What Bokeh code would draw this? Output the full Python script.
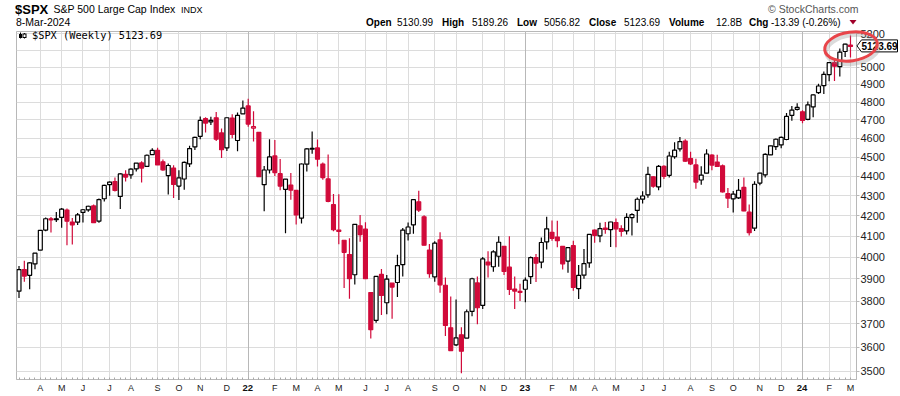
import datetime as dt
import math
import html
from bokeh.plotting import figure
from bokeh.models import (Range1d, FixedTicker, NumeralTickFormatter, Grid, GridBox,
                          ColumnDataSource, Div)
from bokeh.embed import file_html
from bokeh.resources import INLINE

# ---------------- data: $SPX weekly candles, week ending 2021-03-12 .. 2024-03-08 -------------
first_week = "2021-03-12"
prev_close0 = 3841.94

opens = [
    3844.39, 3942.96, 3916.48, 3969.31, 4034.44, 4130.10, 4185.14, 4185.03, 4191.98, 4228.29,
    4169.14, 4168.61, 4216.52, 4229.34, 4248.87, 4173.40, 4284.90, 4356.46, 4372.41, 4296.40,
    4409.58, 4406.86, 4437.77, 4469.04, 4450.29, 4513.02, 4535.38, 4474.81, 4402.95, 4442.12,
    4348.84, 4385.44, 4463.72, 4553.69, 4610.62, 4707.25, 4689.30, 4712.00, 4628.75, 4548.37,
    4710.30, 4587.90, 4733.99,
    4778.14, 4655.34, 4632.24, 4356.32, 4431.79, 4505.75, 4412.61, 4332.74, 4354.17, 4327.01,
    4188.82, 4462.40, 4541.09, 4547.97, 4462.64, 4385.63, 4255.34, 4130.61, 4081.27, 4013.02,
    3919.42, 4151.09, 4134.72, 3838.15, 3715.31, 3920.76, 3792.61, 3880.94, 3883.79, 3965.72,
    4112.38, 4155.93, 4269.37, 4195.08, 4034.58, 3909.43, 4083.67, 3871.40, 3682.72, 3609.78,
    3652.49, 3638.65, 3754.44, 3881.85, 3780.71, 3977.97, 3956.23, 4005.36, 4052.02, 3954.17,
    3853.79, 3843.34,
    3853.29, 3910.82, 3999.28, 3978.14, 4073.26, 4119.57, 4096.62, 4052.35, 3982.93, 4055.15,
    3855.76, 3917.47, 3974.13, 4130.48, 4102.20, 4139.76, 4132.07, 4166.79, 4136.98, 4126.65,
    4190.78, 4226.71, 4282.99, 4304.50, 4396.44, 4344.88, 4450.48, 4404.54, 4501.27, 4543.39,
    4584.82, 4491.58, 4458.13, 4380.28, 4415.33, 4510.06, 4473.27, 4453.53, 4310.62, 4284.52,
    4289.02, 4342.37, 4217.98, 4139.39, 4364.27, 4406.66, 4511.70, 4554.86, 4564.37, 4593.39,
    4725.58, 4758.86,
    4745.20, 4703.70, 4772.35, 4853.42, 4892.95, 4957.19, 5026.83, 5003.14, 5093.00, 5130.99,
]
highs = [
    3960.27, 3983.87, 3978.19, 4020.63, 4129.48, 4191.31, 4194.17, 4218.78, 4238.04, 4236.39,
    4188.72, 4213.42, 4233.45, 4249.74, 4256.60, 4286.12, 4355.43, 4372.87, 4393.68, 4415.18,
    4429.97, 4440.82, 4468.00, 4478.00, 4513.33, 4545.85, 4549.78, 4486.87, 4465.40, 4457.30,
    4429.97, 4475.82, 4559.67, 4608.08, 4718.50, 4714.92, 4717.75, 4743.83, 4652.94, 4713.57,
    4731.99, 4740.74, 4808.93,
    4818.62, 4748.83, 4632.24, 4453.23, 4595.31, 4590.03, 4489.55, 4385.34, 4416.78, 4327.01,
    4465.40, 4546.03, 4637.30, 4593.45, 4471.00, 4512.94, 4308.45, 4307.66, 4081.27, 4090.72,
    4158.49, 4204.29, 4168.78, 3838.15, 3913.65, 3945.86, 3918.50, 3880.94, 4012.44, 4140.15,
    4167.66, 4280.47, 4325.28, 4203.04, 4062.99, 4076.81, 4119.28, 3907.07, 3820.14, 3806.91,
    3685.41, 3762.79, 3905.42, 3911.79, 4001.48, 4028.84, 4034.02, 4100.51, 4052.45, 4100.96,
    3911.38, 3878.44,
    3906.18, 4003.95, 4015.39, 4094.21, 4195.44, 4176.54, 4175.16, 4052.35, 4048.29, 4078.49,
    3964.46, 4039.49, 4110.75, 4133.13, 4165.43, 4169.48, 4170.36, 4186.92, 4154.28, 4212.91,
    4212.87, 4290.67, 4322.62, 4448.47, 4400.15, 4458.48, 4456.46, 4527.76, 4578.43, 4607.07,
    4594.22, 4527.37, 4490.33, 4452.00, 4541.25, 4514.29, 4511.99, 4461.03, 4339.44, 4324.10,
    4385.46, 4393.57, 4255.84, 4373.62, 4418.03, 4520.12, 4560.30, 4599.39, 4609.23, 4738.57,
    4778.01, 4793.30,
    4754.33, 4802.40, 4842.07, 4903.68, 4975.29, 5030.06, 5048.39, 5111.06, 5140.33, 5189.26,
]
lows = [
    3813.41, 3886.75, 3853.50, 3944.35, 4034.44, 4124.43, 4118.38, 4170.16, 4142.00, 4056.88,
    4061.41, 4154.92, 4167.59, 4220.00, 4164.40, 4166.00, 4271.00, 4300.52, 4321.00, 4233.13,
    4372.00, 4386.00, 4424.00, 4367.73, 4450.00, 4513.00, 4457.66, 4427.76, 4305.91, 4288.52,
    4278.94, 4329.92, 4447.47, 4537.36, 4595.06, 4630.86, 4672.78, 4585.43, 4495.12, 4532.26,
    4600.22, 4531.10, 4733.99,
    4662.74, 4582.24, 4395.34, 4222.62, 4414.01, 4401.41, 4327.22, 4114.65, 4279.54, 4157.87,
    4161.72, 4424.30, 4517.00, 4450.04, 4381.34, 4267.62, 4124.28, 4062.51, 3858.87, 3810.32,
    3875.13, 4073.85, 3900.16, 3636.87, 3705.00, 3738.67, 3742.06, 3721.56, 3818.63, 3910.74,
    4079.81, 4112.09, 4218.70, 4057.66, 3906.03, 3886.75, 3837.08, 3647.47, 3584.13, 3604.93,
    3491.58, 3638.65, 3733.25, 3698.15, 3764.70, 3906.54, 3933.42, 3956.00, 3918.39, 3827.11,
    3764.49, 3800.04,
    3794.33, 3877.29, 3885.54, 3949.06, 4037.20, 4079.25, 4047.96, 3943.08, 3928.16, 3846.32,
    3808.86, 3901.27, 3951.53, 4069.84, 4072.00, 4113.00, 4049.35, 4048.28, 4098.92, 4109.00,
    4103.98, 4166.15, 4261.07, 4290.00, 4341.00, 4328.08, 4385.05, 4393.40, 4491.00, 4528.56,
    4474.55, 4458.00, 4335.31, 4356.29, 4414.98, 4430.46, 4448.00, 4316.49, 4238.63, 4216.45,
    4283.79, 4223.03, 4103.78, 4126.00, 4353.34, 4393.57, 4510.36, 4537.24, 4546.50, 4590.00,
    4695.00, 4751.99,
    4682.11, 4699.00, 4714.82, 4845.00, 4845.15, 4918.09, 4920.31, 4946.00, 5060.00, 5056.82,
]
closes = [
    3943.34, 3913.10, 3974.54, 4019.87, 4128.80, 4185.47, 4180.17, 4181.17, 4232.60, 4173.85,
    4155.86, 4204.11, 4229.89, 4247.44, 4166.45, 4280.70, 4352.34, 4369.55, 4327.16, 4411.79,
    4395.26, 4436.52, 4468.00, 4441.67, 4509.37, 4535.43, 4458.58, 4432.99, 4455.48, 4357.04,
    4391.34, 4471.37, 4544.90, 4605.38, 4697.53, 4682.85, 4697.96, 4594.62, 4538.43, 4712.02,
    4620.64, 4725.79, 4766.18,
    4677.03, 4662.85, 4397.94, 4431.85, 4500.53, 4418.64, 4348.87, 4384.65, 4328.87, 4204.31,
    4463.12, 4543.06, 4545.86, 4488.28, 4392.59, 4271.78, 4131.93, 4123.34, 4023.89, 3901.36,
    4158.24, 4108.54, 3900.86, 3674.84, 3911.74, 3825.33, 3899.38, 3863.16, 3961.63, 4130.29,
    4145.19, 4280.15, 4228.48, 4057.66, 3924.26, 4067.36, 3873.33, 3693.23, 3585.62, 3639.66,
    3583.07, 3752.75, 3901.06, 3770.55, 3992.93, 3965.34, 4026.12, 4071.70, 3934.38, 3852.36,
    3844.82, 3839.50,
    3895.08, 3999.09, 3972.61, 4070.56, 4136.48, 4090.46, 4079.09, 3970.04, 4045.64, 3861.59,
    3916.64, 3970.99, 4109.31, 4105.02, 4137.64, 4133.52, 4169.48, 4136.25, 4124.08, 4191.98,
    4205.45, 4282.37, 4298.86, 4409.59, 4348.33, 4450.38, 4398.95, 4505.42, 4536.34, 4582.23,
    4478.03, 4464.05, 4369.71, 4405.71, 4515.77, 4457.49, 4450.32, 4320.06, 4288.05, 4308.50,
    4327.78, 4224.16, 4117.37, 4358.34, 4415.24, 4514.02, 4559.34, 4594.63, 4604.37, 4719.19,
    4754.63, 4769.83,
    4697.24, 4783.83, 4839.81, 4890.97, 4958.61, 5026.61, 5005.57, 5088.80, 5137.08, 5123.69,
]
volume_label = "12.8B"
date_label = "8-Mar-2024"

# Monday market holidays (first trading day of that week moves to Tuesday)
monday_holidays = ["2021-05-31", "2021-07-05", "2021-09-06", "2022-01-17", "2022-02-21",
                   "2022-05-30", "2022-07-04", "2022-09-05", "2022-12-26", "2023-01-02",
                   "2023-01-16", "2023-02-20", "2023-05-29", "2023-09-04", "2023-12-25",
                   "2024-01-01", "2024-01-15", "2024-02-19"]
month_letters = ["J", "F", "M", "A", "M", "J", "J", "A", "S", "O", "N", "D"]
price_ticks = [3500, 3600, 3700, 3800, 3900, 4000, 4100, 4200, 4300, 4400, 4500, 4600,
               4700, 4800, 4900, 5000, 5100, 5200]

# ---------------- layout constants ----------------
W, H = 900, 396
FRAME_L, FRAME_R, FRAME_T, FRAME_B = 16, 856, 31, 379
X0, X1 = -0.47, 157.13
Y_TOP, Y_BOT = 5214.0, 3466.0
RED = "#d10a3a"
BLACK = "#000000"
FONT = "Liberation Sans"
SANS = "'Liberation Sans', Arial, sans-serif"
MONO = "'DejaVu Sans Mono', 'Liberation Mono', monospace"


def px_x(i):
    return FRAME_L + (i - X0) / (X1 - X0) * (FRAME_R - FRAME_L)


def px_y(v):
    return FRAME_T + (math.log(Y_TOP) - math.log(v)) / (math.log(Y_TOP) - math.log(Y_BOT)) * (FRAME_B - FRAME_T)


# ---------------- derived ----------------
n = len(closes)
idx = list(range(n))
f0 = dt.date.fromisoformat(first_week)
fridays = [f0 + dt.timedelta(days=7 * i) for i in idx]
hol = {dt.date.fromisoformat(h) for h in monday_holidays}


def first_trading_day(friday):
    d = friday - dt.timedelta(days=4)
    while d in hol:
        d += dt.timedelta(days=1)
    return d


ftd = [first_trading_day(f) for f in fridays]
month_ticks, month_labels, year_ticks, year_labels = [], [], [], []
for i in range(1, n):
    if ftd[i].month != ftd[i - 1].month:
        month_ticks.append(i)
        if ftd[i].month == 1:
            month_labels.append("")
            year_ticks.append(i)
            year_labels.append("%02d" % (ftd[i].year % 100))
        else:
            month_labels.append(month_letters[ftd[i].month - 1])

prev = [prev_close0] + closes[:-1]
colors = [BLACK if c >= p else RED for c, p in zip(closes, prev)]
fills = ["#ffffff" if c > o else col for o, c, col in zip(opens, closes, colors)]
src = ColumnDataSource(dict(
    x=idx, o=opens, h=highs, l=lows, c=closes,
    top=[max(o, c) for o, c in zip(opens, closes)],
    bot=[min(o, c) for o, c in zip(opens, closes)],
    color=colors, fill=fills))

# ---------------- main chart ----------------
p = figure(width=W, height=H, output_backend="svg", toolbar_location=None,
           x_range=Range1d(X0, X1), y_range=Range1d(Y_BOT, Y_TOP),
           y_axis_type="log", y_axis_location="right",
           min_border_left=FRAME_L, min_border_right=W - FRAME_R,
           min_border_top=FRAME_T, min_border_bottom=H - FRAME_B,
           background_fill_color="white", border_fill_color="white")
p.outline_line_color = "#b8b8b8"

p.xgrid.grid_line_color = "#dcdcdc"
p.ygrid.grid_line_color = "#dcdcdc"
p.add_layout(Grid(dimension=0, ticker=FixedTicker(ticks=year_ticks),
                  grid_line_color="#b8b8b8"))

xa = p.xaxis[0]
xa.ticker = FixedTicker(ticks=month_ticks, minor_ticks=idx)
xa.major_label_overrides = {t: lab for t, lab in zip(month_ticks, month_labels)}
xa.major_tick_line_color = None
xa.major_tick_out = 0
xa.major_tick_in = 0
xa.minor_tick_in = 2
xa.minor_tick_out = 0
xa.minor_tick_line_color = "#a8a8a8"
xa.axis_line_color = "#b8b8b8"
xa.major_label_standoff = 3
xa.major_label_text_font = FONT
xa.major_label_text_font_size = "9px"
xa.major_label_text_color = "#222222"

ya = p.yaxis[0]
ya.ticker = FixedTicker(ticks=price_ticks)
ya.formatter = NumeralTickFormatter(format="0")
ya.major_label_overrides = {5100: ""}
ya.minor_tick_line_color = None
ya.major_tick_out = 3
ya.major_tick_in = 0
ya.major_tick_line_color = "#b8b8b8"
ya.axis_line_color = "#b8b8b8"
ya.major_label_standoff = 1
ya.major_label_text_font = FONT
ya.major_label_text_font_size = "11px"
ya.major_label_text_color = "#222222"

p.segment(x0="x", y0="l", x1="x", y1="h", source=src, line_color="color", line_width=1.2)
p.vbar(x="x", width=0.74, top="top", bottom="bot", source=src,
       fill_color="fill", line_color="color", line_width=1.2)

# ---------------- transparent overlay (header, year labels, price tag, highlight) ----------
parts = []


def t(s, x, y, size, bold=False, color="#000000", font=SANS, anchor="start"):
    parts.append('<text x="%.1f" y="%.1f" text-anchor="%s" fill="%s" '
                 'style="font-family:%s;font-size:%s;font-weight:%s">%s</text>'
                 % (x, y, anchor, color, font, size, "bold" if bold else "normal",
                    html.escape(s)))


o_, h_, l_, c_ = opens[-1], highs[-1], lows[-1], closes[-1]
chg = c_ - closes[-2]
pct = chg / closes[-2] * 100

t("$SPX", 15, 13.5, "13px", bold=True)
t("S&P 500 Large Cap Index", 53.5, 13, "10.5px")
t("INDX", 181, 13, "9px")
t("\u00a9 StockCharts.com", 768, 12.5, "10.5px", color="#555555")
t(date_label, 16, 26.3, "10.5px")
y2 = 26.3
for s, x, b in [("Open", 366, True), ("%.2f" % o_, 397, False),
                ("High", 442, True), ("%.2f" % h_, 472, False),
                ("Low", 517, True), ("%.2f" % l_, 544, False),
                ("Close", 589, True), ("%.2f" % c_, 624, False),
                ("Volume", 669, True), (volume_label, 716, False),
                ("Chg", 749, True), ("%.2f (%.2f%%)" % (chg, pct), 771, False)]:
    t(s, x, y2, "10px", bold=b)
parts.append('<polygon points="849.5,20 856.5,20 853,24.5" fill="#a0002a"/>')

# legend line inside the chart, with a small candle icon
lx, ly = FRAME_L + 1, FRAME_T
parts.append('<line x1="%.1f" y1="%.1f" x2="%.1f" y2="%.1f" stroke="#000" stroke-width="1"/>'
             % (lx + 3.5, ly + 1.5, lx + 3.5, ly + 7.5))
parts.append('<rect x="%.1f" y="%.1f" width="3" height="4" fill="#000"/>' % (lx + 2, ly + 3))
parts.append('<line x1="%.1f" y1="%.1f" x2="%.1f" y2="%.1f" stroke="#000" stroke-width="1"/>'
             % (lx + 7.5, ly + 2, lx + 7.5, ly + 7.5))
parts.append('<rect x="%.1f" y="%.1f" width="3" height="3.5" fill="#fff" stroke="#000" '
             'stroke-width="1"/>' % (lx + 6, ly + 3))
t("$SPX (Weekly) %.2f" % c_, 32, 38.5, "10.3px", font=MONO)

# bold year labels on the date axis
for tk, lab in zip(year_ticks, year_labels):
    t(lab, px_x(tk), 390.7, "9.5px", bold=True, color="#111111", anchor="middle")

# price tag at the last close
ty = px_y(c_)
tx = px_x(idx[-1])
parts.append('<polygon points="%.1f,%.1f %.1f,%.1f %.1f,%.1f %.1f,%.1f %.1f,%.1f" '
             'fill="#fff" stroke="#000" stroke-width="1"/>'
             % (FRAME_R + 1, ty, FRAME_R + 5.5, ty - 6, W - 2.5, ty - 6, W - 2.5, ty + 6,
                FRAME_R + 5.5, ty + 6))
t("%.2f" % c_, FRAME_R + 5.5, ty + 3.6, "10px", bold=True)

# red highlight ellipse around the latest candles
ecx, ecy = tx + 1, ty + 0.6
parts.append('<ellipse cx="%.1f" cy="%.1f" rx="26.5" ry="14.3" fill="none" stroke="#888" '
             'stroke-opacity="0.3" stroke-width="4" transform="rotate(-8 %.1f %.1f)"/>'
             % (ecx + 1.5, ecy + 3, ecx + 1.5, ecy + 3))
parts.append('<ellipse cx="%.1f" cy="%.1f" rx="26.5" ry="14.3" fill="none" stroke="#e8454a" '
             'stroke-width="3" transform="rotate(-8 %.1f %.1f)"/>' % (ecx, ecy, ecx, ecy))

svg = ('<svg xmlns="http://www.w3.org/2000/svg" width="%d" height="%d" '
       'style="display:block;position:absolute;left:0;top:0;pointer-events:none">%s</svg>'
       % (W, H, "".join(parts)))
overlay = Div(text=svg, width=W, height=H, margin=0,
              styles={"pointer-events": "none", "padding": "0px"})

root = GridBox(children=[(p, 0, 0), (overlay, 0, 0)])
open("out.html", "w").write(file_html(root, INLINE))
